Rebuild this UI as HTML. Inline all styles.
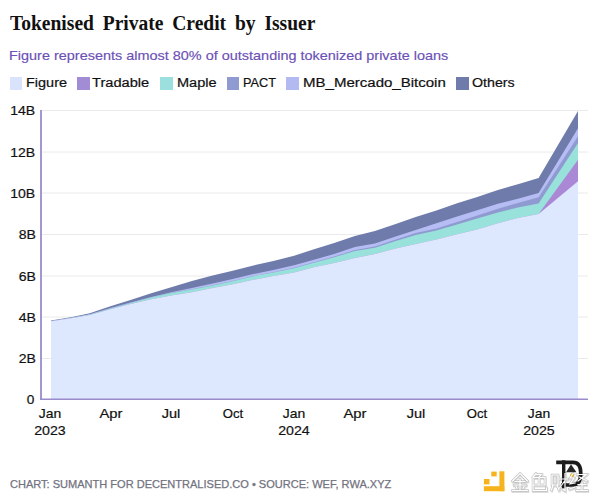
<!DOCTYPE html>
<html><head><meta charset="utf-8">
<style>
html,body{margin:0;padding:0;background:#fff;}
body{width:600px;height:503px;overflow:hidden;position:relative;font-family:"Liberation Sans",sans-serif;}
.t{position:absolute;white-space:nowrap;}
.lg{position:absolute;top:77.3px;height:12.4px;width:12.8px;}
svg{position:absolute;left:0;top:0;}
</style></head><body>
<svg width="600" height="503" viewBox="0 0 600 503">
<g stroke="#eaeaea" stroke-width="1"><line x1="42" x2="588" y1="110.5" y2="110.5"/><line x1="42" x2="588" y1="152" y2="152"/><line x1="42" x2="588" y1="193" y2="193"/><line x1="42" x2="588" y1="234.5" y2="234.5"/><line x1="42" x2="588" y1="276" y2="276"/><line x1="42" x2="588" y1="317" y2="317"/><line x1="42" x2="588" y1="358.5" y2="358.5"/></g>
<path d="M51.0,320.6 L71.0,317.2 L89.7,313.3 L110.4,306.3 L130.5,299.9 L151.2,293.3 L171.2,287.3 L191.9,281.0 L212.6,275.6 L232.7,270.8 L253.4,265.5 L273.4,261.0 L294.1,255.8 L314.8,249.0 L334.2,243.0 L354.9,236.0 L374.9,231.0 L395.7,224.0 L415.7,217.0 L436.4,210.4 L457.1,203.3 L477.2,197.0 L497.9,190.0 L517.9,184.3 L538.6,178.0 L578.0,111.0 L578.0,399.0 L51.0,399.0 Z" fill="#6f7cab"/>
<path d="M51.0,321.0 L71.0,317.8 L89.7,314.2 L110.4,308.0 L130.5,302.5 L151.2,297.0 L171.2,292.3 L191.9,288.0 L212.6,283.5 L232.7,279.0 L253.4,274.0 L273.4,270.0 L294.1,265.3 L314.8,259.5 L334.2,254.0 L354.9,247.0 L374.9,243.5 L395.7,236.5 L415.7,230.0 L436.4,223.2 L457.1,216.5 L477.2,210.3 L497.9,203.8 L517.9,198.8 L538.6,193.0 L578.0,128.3 L578.0,399.0 L51.0,399.0 Z" fill="#b6bdf4"/>
<path d="M51.0,321.1 L71.0,318.0 L89.7,314.4 L110.4,308.3 L130.5,302.8 L151.2,297.4 L171.2,292.8 L191.9,289.2 L212.6,285.2 L232.7,281.0 L253.4,276.0 L273.4,272.3 L294.1,267.8 L314.8,262.0 L334.2,256.5 L354.9,250.0 L374.9,246.5 L395.7,239.5 L415.7,233.0 L436.4,228.5 L457.1,222.0 L477.2,215.5 L497.9,208.8 L517.9,203.0 L538.6,197.3 L578.0,136.3 L578.0,399.0 L51.0,399.0 Z" fill="#8f9bd0"/>
<path d="M51.0,321.2 L71.0,318.1 L89.7,314.5 L110.4,308.4 L130.5,302.9 L151.2,297.5 L171.2,293.0 L191.9,289.4 L212.6,285.4 L232.7,281.2 L253.4,276.2 L273.4,272.6 L294.1,268.2 L314.8,262.5 L334.2,257.2 L354.9,251.0 L374.9,247.8 L395.7,241.0 L415.7,235.0 L436.4,230.5 L457.1,224.5 L477.2,218.5 L497.9,212.5 L517.9,207.5 L538.6,203.5 L578.0,143.0 L578.0,399.0 L51.0,399.0 Z" fill="#99e1db"/>
<path d="M51.0,321.3 L71.0,318.3 L89.7,315.0 L110.4,309.3 L130.5,304.0 L151.2,299.2 L171.2,295.6 L191.9,292.2 L212.6,288.1 L232.7,284.3 L253.4,279.8 L273.4,276.0 L294.1,272.5 L314.8,267.0 L334.2,263.0 L354.9,258.0 L374.9,254.0 L395.7,248.5 L415.7,244.0 L436.4,239.5 L457.1,234.3 L477.2,229.5 L497.9,223.3 L517.9,218.0 L538.6,214.0 L578.0,159.8 L578.0,399.0 L51.0,399.0 Z" fill="#ab88d6"/>
<path d="M51.0,321.3 L71.0,318.3 L89.7,315.0 L110.4,309.3 L130.5,304.0 L151.2,299.2 L171.2,295.6 L191.9,292.2 L212.6,288.1 L232.7,284.3 L253.4,279.8 L273.4,276.0 L294.1,272.5 L314.8,267.0 L334.2,263.0 L354.9,258.0 L374.9,254.0 L395.7,248.5 L415.7,244.0 L436.4,239.5 L457.1,234.3 L477.2,229.5 L497.9,223.3 L517.9,218.0 L538.6,214.0 L578.0,181.3 L578.0,399.0 L51.0,399.0 Z" fill="#dde7fd"/>
<line x1="41" x2="41" y1="110" y2="400" stroke="#9a8ccc" stroke-width="1.8"/>
<line x1="40.1" x2="588" y1="399.3" y2="399.3" stroke="#9a8ccc" stroke-width="1.6"/>
<g fill="#f6b31b">
<rect x="499.4" y="471.3" width="5" height="19.9"/>
<rect x="483.9" y="486.2" width="20.5" height="5"/>
<rect x="491.3" y="471.6" width="5.4" height="4.8"/>
<rect x="483.9" y="479" width="5.6" height="5.4"/>
</g>
<g fill="none" stroke-linecap="square" stroke-linejoin="miter">
<g stroke="#dedede" stroke-width="2.6" transform="translate(0.5,1.2)">
<path d="M520,473.5 L512.5,481 M520,473.5 L527.5,481 M515,481.5 H525 M514,485 H526 M520,479 V490 M516,486.5 L517,488.5 M524,486.5 L523,488.5 M512.5,490.5 H527.5"/>
<path d="M536,473.5 L533,477 M535,474.5 H541 L539,477 M533,477.5 H545 V485 H533 Z M539,477.5 V485 M533,485 V490.5 H546.5 V488"/>
<path d="M552,475 H558 V485 H552 Z M555,477 V483 M553,485 L551.5,490 M557,485 L559,490 M559.5,479 H567.5 M565,473.5 V490.5 L563,489.5 M565,480.5 L559.5,488"/>
<path d="M573,473.5 L570,478 H574 L570,484 L575,483 M569.5,489 L575,487 M577,474.5 H586 L578,481 M579.5,477 L587,481 M578,484.5 H586 M582,482 V490 M576.5,490.5 H587.5"/>
</g>
<g stroke="#c0c0c0" stroke-width="2.5">
<path d="M520,473.5 L512.5,481 M520,473.5 L527.5,481 M515,481.5 H525 M514,485 H526 M520,479 V490 M516,486.5 L517,488.5 M524,486.5 L523,488.5 M512.5,490.5 H527.5"/>
<path d="M536,473.5 L533,477 M535,474.5 H541 L539,477 M533,477.5 H545 V485 H533 Z M539,477.5 V485 M533,485 V490.5 H546.5 V488"/>
<path d="M552,475 H558 V485 H552 Z M555,477 V483 M553,485 L551.5,490 M557,485 L559,490 M559.5,479 H567.5 M565,473.5 V490.5 L563,489.5 M565,480.5 L559.5,488"/>
<path d="M573,473.5 L570,478 H574 L570,484 L575,483 M569.5,489 L575,487 M577,474.5 H586 L578,481 M579.5,477 L587,481 M578,484.5 H586 M582,482 V490 M576.5,490.5 H587.5"/>
</g>
<g fill="none" stroke="#1c1c1c">
<path d="M558,462.4 H573 C579.5,462.4 580.8,467.5 580.8,473.5 C580.8,480.5 578,485 572,485 H563" stroke-width="3.6"/>
<path d="M563.7,462 V486.5" stroke-width="3.4"/>
</g>
<path d="M571,464.3 L576.5,472.3 L566,472.3 Z" fill="#262626"/>
<circle cx="572" cy="475.2" r="1.9" fill="#e0a82a"/>
<g stroke="#ffffff" stroke-width="1.2">
<path d="M520,473.5 L512.5,481 M520,473.5 L527.5,481 M515,481.5 H525 M514,485 H526 M520,479 V490 M516,486.5 L517,488.5 M524,486.5 L523,488.5 M512.5,490.5 H527.5"/>
<path d="M536,473.5 L533,477 M535,474.5 H541 L539,477 M533,477.5 H545 V485 H533 Z M539,477.5 V485 M533,485 V490.5 H546.5 V488"/>
<path d="M552,475 H558 V485 H552 Z M555,477 V483 M553,485 L551.5,490 M557,485 L559,490 M559.5,479 H567.5 M565,473.5 V490.5 L563,489.5 M565,480.5 L559.5,488"/>
<path d="M573,473.5 L570,478 H574 L570,484 L575,483 M569.5,489 L575,487 M577,474.5 H586 L578,481 M579.5,477 L587,481 M578,484.5 H586 M582,482 V490 M576.5,490.5 H587.5"/>
</g>
</g>

</svg>
<div class="lg" style="left:9.6px;background:#d9e3fb"></div><div class="lg" style="left:77.3px;background:#a38cd6"></div><div class="lg" style="left:160px;background:#9cdfdf"></div><div class="lg" style="left:226.7px;background:#8f9bd0"></div><div class="lg" style="left:286.3px;background:#b3baf2"></div><div class="lg" style="left:456px;background:#6f7cab"></div>
<div class="t" style="left:10.40px;top:13.13px;font-size:21.7px;line-height:21.7px;font-family:'Liberation Serif',serif;color:#111;transform:scaleX(0.9);transform-origin:left;font-weight:bold;word-spacing:4.4px;">Tokenised Private Credit by Issuer</div><div class="t" style="left:9.40px;top:49.63px;font-size:12.6px;line-height:12.6px;font-family:'Liberation Sans',sans-serif;color:#6b50b6;transform:scaleX(1.147);transform-origin:left;-webkit-text-stroke:0.15px #6b50b6;">Figure represents almost 80% of outstanding tokenized private loans</div><div class="t" style="left:26.30px;top:76.59px;font-size:12.3px;line-height:12.3px;font-family:'Liberation Sans',sans-serif;color:#111;transform:scaleX(1.176);transform-origin:left;-webkit-text-stroke:0.2px #111;">Figure</div><div class="t" style="left:92.10px;top:76.59px;font-size:12.3px;line-height:12.3px;font-family:'Liberation Sans',sans-serif;color:#111;transform:scaleX(1.189);transform-origin:left;-webkit-text-stroke:0.2px #111;">Tradable</div><div class="t" style="left:176.70px;top:76.59px;font-size:12.3px;line-height:12.3px;font-family:'Liberation Sans',sans-serif;color:#111;transform:scaleX(1.183);transform-origin:left;-webkit-text-stroke:0.2px #111;">Maple</div><div class="t" style="left:242.70px;top:76.59px;font-size:12.3px;line-height:12.3px;font-family:'Liberation Sans',sans-serif;color:#111;transform:scaleX(1.032);transform-origin:left;-webkit-text-stroke:0.2px #111;">PACT</div><div class="t" style="left:303.15px;top:76.59px;font-size:12.3px;line-height:12.3px;font-family:'Liberation Sans',sans-serif;color:#111;transform:scaleX(1.222);transform-origin:left;-webkit-text-stroke:0.2px #111;">MB_Mercado_Bitcoin</div><div class="t" style="left:472.10px;top:76.59px;font-size:12.3px;line-height:12.3px;font-family:'Liberation Sans',sans-serif;color:#111;transform:scaleX(1.158);transform-origin:left;-webkit-text-stroke:0.2px #111;">Others</div><div class="t" style="right:564.40px;top:104.10px;font-size:13px;line-height:13px;font-family:'Liberation Sans',sans-serif;color:#111;transform:scaleX(1.08);transform-origin:right;-webkit-text-stroke:0.2px #111;">14B</div><div class="t" style="right:564.40px;top:145.60px;font-size:13px;line-height:13px;font-family:'Liberation Sans',sans-serif;color:#111;transform:scaleX(1.08);transform-origin:right;-webkit-text-stroke:0.2px #111;">12B</div><div class="t" style="right:564.40px;top:186.60px;font-size:13px;line-height:13px;font-family:'Liberation Sans',sans-serif;color:#111;transform:scaleX(1.08);transform-origin:right;-webkit-text-stroke:0.2px #111;">10B</div><div class="t" style="right:564.40px;top:228.10px;font-size:13px;line-height:13px;font-family:'Liberation Sans',sans-serif;color:#111;transform:scaleX(1.08);transform-origin:right;-webkit-text-stroke:0.2px #111;">8B</div><div class="t" style="right:564.40px;top:269.60px;font-size:13px;line-height:13px;font-family:'Liberation Sans',sans-serif;color:#111;transform:scaleX(1.08);transform-origin:right;-webkit-text-stroke:0.2px #111;">6B</div><div class="t" style="right:564.40px;top:310.60px;font-size:13px;line-height:13px;font-family:'Liberation Sans',sans-serif;color:#111;transform:scaleX(1.08);transform-origin:right;-webkit-text-stroke:0.2px #111;">4B</div><div class="t" style="right:564.40px;top:352.10px;font-size:13px;line-height:13px;font-family:'Liberation Sans',sans-serif;color:#111;transform:scaleX(1.08);transform-origin:right;-webkit-text-stroke:0.2px #111;">2B</div><div class="t" style="right:565.50px;top:392.90px;font-size:13px;line-height:13px;font-family:'Liberation Sans',sans-serif;color:#111;transform:scaleX(1.05);transform-origin:right;-webkit-text-stroke:0.2px #111;">0</div><div class="t" style="left:-49.70px;width:200px;text-align:center;top:407.00px;font-size:13px;line-height:13px;font-family:'Liberation Sans',sans-serif;color:#111;transform:scaleX(1.07);transform-origin:center;-webkit-text-stroke:0.2px #111;">Jan</div><div class="t" style="left:-49.70px;width:200px;text-align:center;top:423.60px;font-size:13px;line-height:13px;font-family:'Liberation Sans',sans-serif;color:#111;transform:scaleX(1.09);transform-origin:center;-webkit-text-stroke:0.2px #111;">2023</div><div class="t" style="left:10.50px;width:200px;text-align:center;top:407.00px;font-size:13px;line-height:13px;font-family:'Liberation Sans',sans-serif;color:#111;transform:scaleX(1.14);transform-origin:center;-webkit-text-stroke:0.2px #111;">Apr</div><div class="t" style="left:71.30px;width:200px;text-align:center;top:407.00px;font-size:13px;line-height:13px;font-family:'Liberation Sans',sans-serif;color:#111;transform:scaleX(1.12);transform-origin:center;-webkit-text-stroke:0.2px #111;">Jul</div><div class="t" style="left:132.80px;width:200px;text-align:center;top:407.00px;font-size:13px;line-height:13px;font-family:'Liberation Sans',sans-serif;color:#111;transform:scaleX(1.01);transform-origin:center;-webkit-text-stroke:0.2px #111;">Oct</div><div class="t" style="left:194.10px;width:200px;text-align:center;top:407.00px;font-size:13px;line-height:13px;font-family:'Liberation Sans',sans-serif;color:#111;transform:scaleX(1.07);transform-origin:center;-webkit-text-stroke:0.2px #111;">Jan</div><div class="t" style="left:194.10px;width:200px;text-align:center;top:423.60px;font-size:13px;line-height:13px;font-family:'Liberation Sans',sans-serif;color:#111;transform:scaleX(1.09);transform-origin:center;-webkit-text-stroke:0.2px #111;">2024</div><div class="t" style="left:254.80px;width:200px;text-align:center;top:407.00px;font-size:13px;line-height:13px;font-family:'Liberation Sans',sans-serif;color:#111;transform:scaleX(1.14);transform-origin:center;-webkit-text-stroke:0.2px #111;">Apr</div><div class="t" style="left:315.60px;width:200px;text-align:center;top:407.00px;font-size:13px;line-height:13px;font-family:'Liberation Sans',sans-serif;color:#111;transform:scaleX(1.12);transform-origin:center;-webkit-text-stroke:0.2px #111;">Jul</div><div class="t" style="left:377.30px;width:200px;text-align:center;top:407.00px;font-size:13px;line-height:13px;font-family:'Liberation Sans',sans-serif;color:#111;transform:scaleX(1.01);transform-origin:center;-webkit-text-stroke:0.2px #111;">Oct</div><div class="t" style="left:438.70px;width:200px;text-align:center;top:407.00px;font-size:13px;line-height:13px;font-family:'Liberation Sans',sans-serif;color:#111;transform:scaleX(1.07);transform-origin:center;-webkit-text-stroke:0.2px #111;">Jan</div><div class="t" style="left:438.70px;width:200px;text-align:center;top:423.60px;font-size:13px;line-height:13px;font-family:'Liberation Sans',sans-serif;color:#111;transform:scaleX(1.09);transform-origin:center;-webkit-text-stroke:0.2px #111;">2025</div><div class="t" style="left:10.00px;top:478.69px;font-size:11px;line-height:11px;font-family:'Liberation Sans',sans-serif;color:#72727e;transform:scaleX(1.003);transform-origin:left;-webkit-text-stroke:0.25px #72727e;">CHART: SUMANTH FOR DECENTRALISED.CO • SOURCE: WEF, RWA.XYZ</div>
</body></html>
